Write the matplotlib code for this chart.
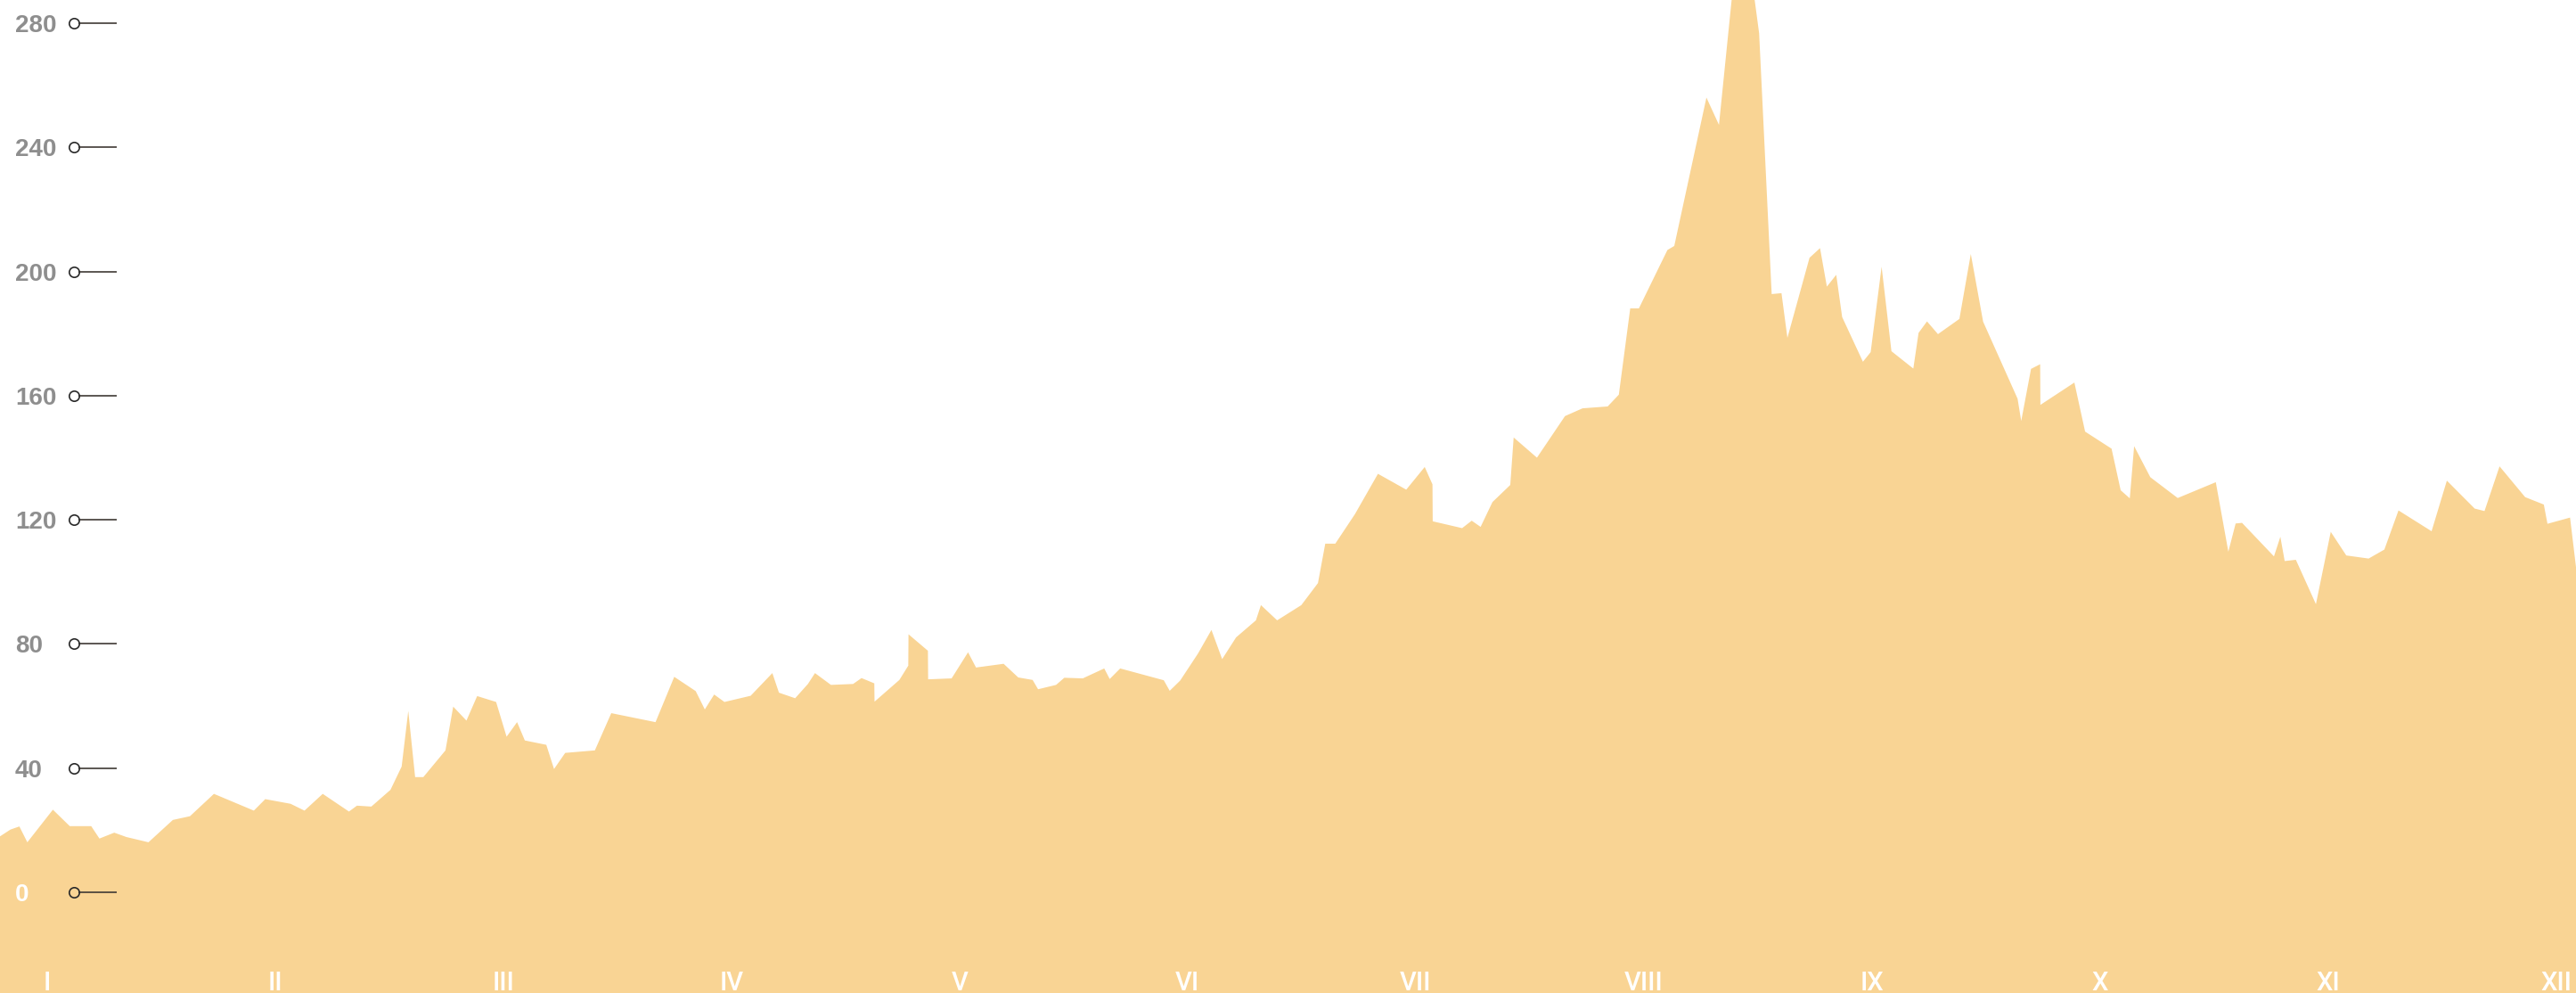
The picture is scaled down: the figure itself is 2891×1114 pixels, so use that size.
import matplotlib
matplotlib.use("Agg")
import matplotlib.pyplot as plt
import matplotlib.transforms as mtransforms

# x positions in months (0 = January label position)
months = [-0.206, -0.160, -0.121, -0.086, 0.026, 0.100, 0.194, 0.230, 0.295, 0.348,
          0.445, 0.552, 0.627, 0.732, 0.907, 0.957, 1.068, 1.129, 1.209, 1.324,
          1.359, 1.422, 1.506, 1.555, 1.584, 1.614, 1.650, 1.747, 1.781, 1.839,
          1.886, 1.969, 2.015, 2.061, 2.095, 2.189, 2.223, 2.272, 2.402, 2.474,
          2.668, 2.750, 2.844, 2.884, 2.925, 2.970, 3.085, 3.180, 3.209, 3.280,
          3.336, 3.367, 3.437, 3.534, 3.571, 3.627, 3.628, 3.737, 3.776, 3.777,
          3.862, 3.863, 3.966, 4.038, 4.073, 4.194, 4.258, 4.321, 4.345, 4.424,
          4.460, 4.541, 4.635, 4.659, 4.705, 4.896, 4.922, 4.968, 5.046, 5.105,
          5.152, 5.213, 5.300, 5.322, 5.393, 5.499, 5.572, 5.604, 5.648, 5.734,
          5.835, 5.959, 6.040, 6.074, 6.075, 6.204, 6.246, 6.285, 6.337, 6.415,
          6.430, 6.532, 6.655, 6.732, 6.842, 6.891, 6.941, 6.979, 7.104, 7.134,
          7.275, 7.330, 7.429, 7.506, 7.561, 7.604, 7.630, 7.727, 7.773, 7.803,
          7.844, 7.870, 7.961, 7.995, 8.043, 8.086, 8.182, 8.205, 8.242, 8.290,
          8.384, 8.434, 8.488, 8.639, 8.655, 8.698, 8.738, 8.739, 8.888, 8.935,
          9.051, 9.091, 9.131, 9.150, 9.221, 9.341, 9.508, 9.563, 9.595, 9.623,
          9.763, 9.791, 9.810, 9.859, 9.947, 10.012, 10.080, 10.178, 10.247, 10.309,
          10.454, 10.521, 10.643, 10.686, 10.752, 10.864, 10.946, 10.962, 11.061, 11.103]

values = [18.0, 20.2, 21.2, 16.1, 26.6, 21.3, 21.3, 17.3, 19.2, 17.8,
          16.1, 23.3, 24.5, 31.7, 26.3, 30.0, 28.5, 26.3, 31.7, 26.0,
          27.9, 27.6, 33.0, 40.5, 58.4, 37.1, 37.1, 45.7, 59.8, 55.3,
          63.2, 61.3, 50.1, 54.8, 48.9, 47.5, 39.7, 44.9, 45.7, 57.7,
          54.8, 69.4, 64.8, 58.9, 63.7, 61.3, 63.3, 70.6, 64.3, 62.5,
          67.1, 70.6, 66.8, 67.1, 69.0, 67.3, 61.4, 68.4, 73.0, 83.1,
          77.8, 68.6, 68.9, 77.3, 72.4, 73.6, 69.2, 68.4, 65.4, 66.8,
          69.1, 68.9, 72.1, 68.7, 72.1, 68.3, 64.9, 68.2, 76.9, 84.5,
          75.1, 82.1, 87.6, 92.5, 87.6, 92.5, 99.6, 112.3, 112.3, 121.8,
          134.8, 129.7, 137.0, 131.4, 119.5, 117.3, 119.7, 117.7, 125.7, 131.2,
          146.5, 140.0, 153.4, 155.9, 156.5, 160.3, 188.1, 188.1, 206.9, 208.2,
          256.0, 247.2, 319.0, 276.7, 192.7, 193.0, 178.6, 204.4, 207.5, 195.1,
          198.9, 185.3, 170.9, 174.0, 201.5, 174.3, 168.7, 180.2, 183.9, 179.8,
          184.7, 205.6, 183.8, 159.0, 151.8, 168.6, 170.1, 157.0, 164.2, 148.4,
          142.9, 129.5, 126.9, 143.7, 133.7, 127.0, 132.1, 109.7, 118.8, 119.0,
          108.2, 114.5, 106.7, 107.1, 92.8, 116.1, 108.5, 107.5, 110.4, 123.0,
          116.3, 132.6, 123.6, 122.8, 137.2, 127.3, 124.9, 118.7, 120.7, 95.0]

month_labels = ["I", "II", "III", "IV", "V", "VI", "VII", "VIII", "IX", "X", "XI", "XII"]
y_ticks = [0, 40, 80, 120, 160, 200, 240, 280]

AREA = "#F9D494"

fig = plt.figure(figsize=(28.91, 11.14), dpi=100)
ax = fig.add_axes([0, 0, 1, 1])
ax.set_axis_off()
ax.set_xlim(-0.20586, 11.0871)
ax.set_ylim(-32.45, 287.44)

ax.fill_between(months, values, -40, color=AREA, linewidth=0, zorder=1)

# y tick decorations: hollow circle + short line, label at left
trans = mtransforms.blended_transform_factory(ax.transAxes, ax.transData)
for t in y_ticks:
    ax.plot([0.0306, 0.0452], [t, t], transform=trans, color="#3f3a35",
            linewidth=1.2, solid_capstyle="butt", zorder=3)
    ax.plot([0.02871], [t], transform=trans, marker="o", markersize=8.2,
            markerfacecolor="none", markeredgecolor="#2a2a2a",
            markeredgewidth=1.2, linestyle="none", zorder=4)
    col = "white" if t == 0 else "#8e8e8e"
    ax.text(0.0059, t, str(t), transform=trans, ha="left", va="center_baseline",
            fontsize=20, fontweight="bold", color=col,
            family=["Liberation Sans", "DejaVu Sans"], zorder=4)

# month labels at the bottom
transx = mtransforms.blended_transform_factory(ax.transData, ax.transAxes)
for i, lab in enumerate(month_labels):
    ax.text(i, 0.003, lab, transform=transx, ha="center", va="baseline",
            fontsize=21, fontweight="medium", color="white",
            family=["Roboto", "Liberation Sans", "DejaVu Sans"], zorder=4)

fig.savefig("out.png", dpi=100)
